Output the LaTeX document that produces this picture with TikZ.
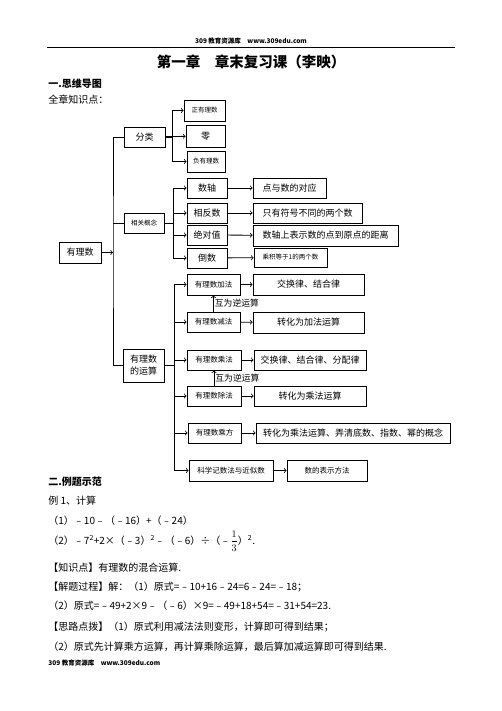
\documentclass[tikz,border=0pt]{standalone}
\usepackage{fontspec}
\setmainfont{Noto Sans CJK SC}

\begin{document}
\begin{tikzpicture}[x=1pt, y=-1pt, >=to, line width=0.8pt]
	% Define styles
	\tikzstyle{box} = [rectangle, draw, inner sep=0pt, minimum height=20pt, font=\fontsize{9}{10}\selectfont]
	\tikzstyle{tinybox} = [box, font=\fontsize{6.5}{7}\selectfont]
	\tikzstyle{opbox} = [box, font=\fontsize{7.5}{8}\selectfont]
	\tikzstyle{textline} = [anchor=west, inner sep=0pt, font=\fontsize{10}{12}\selectfont]

	\useasboundingbox (0,0) rectangle (502,711);

	% Header and title
	\node[font=\fontsize{6.5}{7}\selectfont\bfseries] (header) at (251,41) {309 教育资源库\quad www.309edu.com};
	\draw (47,47.5) -- (455,47.5);
	\node[font=\fontsize{14.5}{16}\selectfont\bfseries] (title) at (251,62) {第一章\quad 章末复习课（李映）};
	\node[textline, font=\fontsize{10}{12}\selectfont\bfseries] (sec1) at (48,84) {一.思维导图};
	\node[textline] (intro) at (48,100) {全章知识点：};

	% Nodes
	\node[box, minimum width=42pt, minimum height=21pt] (root) at (80,252.5) {有理数};
	\node[box, minimum width=41pt] (fenlei) at (144.5,137) {分类};
	\node[tinybox, minimum width=40pt] (xiangguan) at (144,223) {相关概念};
	\node[box, minimum width=41pt, minimum height=33pt, align=center] (yunsuan) at (143.5,365.5) {有理数\\[2pt]的运算};

	\node[tinybox, minimum width=41pt, minimum height=21pt] (zheng) at (204.5,110.5) {正有理数};
	\node[box, minimum width=39pt, minimum height=22pt] (ling) at (205.5,136) {零};
	\node[tinybox, minimum width=38pt, minimum height=21pt] (fu) at (206,161.5) {负有理数};

	\node[box, minimum width=40pt] (shuzhou) at (207,188) {数轴};
	\node[box, minimum width=40pt] (xiangfan) at (207,213) {相反数};
	\node[box, minimum width=40pt] (jueduizhi) at (207,235) {绝对值};
	\node[box, minimum width=40pt] (daoshu) at (207,258) {倒数};
	\node[box, minimum width=73pt] (duiying) at (289.5,188) {点与数的对应};
	\node[box, minimum width=109pt] (fuhao) at (307.5,213) {只有符号不同的两个数};
	\node[box, minimum width=145pt, minimum height=21pt] (juli) at (325.5,235.5) {数轴上表示数的点到原点的距离};
	\node[tinybox, minimum width=73pt, minimum height=19pt] (chengji) at (290.5,257.5) {乘积等于1的两个数};

	\node[opbox, minimum width=53pt, minimum height=21pt] (jia) at (213.5,284.5) {有理数加法};
	\node[opbox, minimum width=53pt] (jian) at (213.5,322) {有理数减法};
	\node[opbox, minimum width=54pt] (cheng) at (214,360) {有理数乘法};
	\node[opbox, minimum width=54pt] (chu) at (214,396) {有理数除法};
	\node[opbox, minimum width=53pt] (chengfang) at (214.5,433) {有理数乘方};
	\node[opbox, minimum width=84pt, minimum height=21pt] (kexue) at (231,470.5) {科学记数法与近似数};
	\node[box, minimum width=111pt, minimum height=21pt] (jialaw) at (308.5,284.5) {交换律、结合律};
	\node[box, minimum width=111pt, minimum height=21pt] (jianrule) at (308.5,322.5) {转化为加法运算};
	\node[box, minimum width=112pt] (chenglaw) at (310,360) {交换律、结合律、分配律};
	\node[box, minimum width=112pt] (churule) at (310,396) {转化为乘法运算};
	\node[box, minimum width=194pt] (chengfangrule) at (353,433) {转化为乘法运算、弄清底数、指数、幂的概念};
	\node[opbox, minimum width=80pt, minimum height=21pt] (biaoshi) at (327,470.5) {数的表示方法};

	\coordinate (trunk) at (113,252.5);
	\coordinate (fork1) at (172,137);
	\coordinate (fork2) at (173,223);
	\coordinate (fork3) at (174,365.5);

	% Arrows
	\draw[->] (root) -- (trunk);
	\draw (fenlei.west) -| (trunk) |- (yunsuan.west);
	\draw (xiangguan.west) -- (xiangguan.west -| trunk);

	\draw (fenlei) -- (fork1);
	\draw[->] (fork1) |- (zheng);
	\draw[->] (fenlei) -- (ling);
	\draw[->] (fork1) |- (fu);

	\draw (xiangguan) -- (fork2);
	\foreach \n in {shuzhou, xiangfan, jueduizhi, daoshu}
		\draw[->] (fork2) |- (\n);
	\draw[->] (shuzhou) -- (duiying);
	\draw[->] (xiangfan) -- (fuhao);
	\draw[->] (jueduizhi) -- (juli);
	\draw[->] (daoshu) -- (chengji);

	\draw (yunsuan) -- (fork3);
	\foreach \n in {jia, jian, cheng, chu, chengfang, kexue}
		\draw[->] (fork3) |- (\n.west);
	\draw[->] (jia) -- (jialaw);
	\draw[->] (jian) -- (jianrule);
	\draw[->] (cheng) -- (chenglaw);
	\draw[->] (chu) -- (churule);
	\draw[->] (chengfang) -- (chengfangrule);
	\draw[->] (kexue) -- (biaoshi);
	\draw[->] (jian) -- (jia) node[midway, right, inner sep=1pt, font=\fontsize{8.8}{10}\selectfont] {互为逆运算};
	\draw[->] (chu) -- (cheng) node[midway, right, inner sep=1pt, font=\fontsize{8.8}{10}\selectfont] {互为逆运算};

	% Example text
	\node[textline, font=\fontsize{10}{12}\selectfont\bfseries] (sec2) at (48,482) {二.例题示范};
	\node[textline] (ex) at (48,501) {例 1、计算};
	\node[textline] (q1) at (48,521) {（1）﹣10﹣（﹣16）+（﹣24）};
	\node[textline] (q2) at (48,541) {（2）﹣7\textsuperscript{2}+2×（﹣3）\textsuperscript{2}﹣（﹣6）÷（﹣$\displaystyle\frac{1}{3}$）\textsuperscript{2}.};
	\node[textline] (point) at (48,568) {【知识点】有理数的混合运算.};
	\node[textline] (sol1) at (48,587) {【解题过程】解：（1）原式=﹣10+16﹣24=6﹣24=﹣18；};
	\node[textline] (sol2) at (48,606) {（2）原式=﹣49+2×9﹣（﹣6）×9=﹣49+18+54=﹣31+54=23.};
	\node[textline] (hint1) at (48,627) {【思路点拨】（1）原式利用减法法则变形，计算即可得到结果；};
	\node[textline] (hint2) at (48,647) {（2）原式先计算乘方运算，再计算乘除运算，最后算加减运算即可得到结果.};
	\node[anchor=west, inner sep=0pt, font=\fontsize{6.5}{7}\selectfont\bfseries] (footer) at (48,663) {309 教育资源库\quad www.309edu.com};
\end{tikzpicture}
\end{document}
